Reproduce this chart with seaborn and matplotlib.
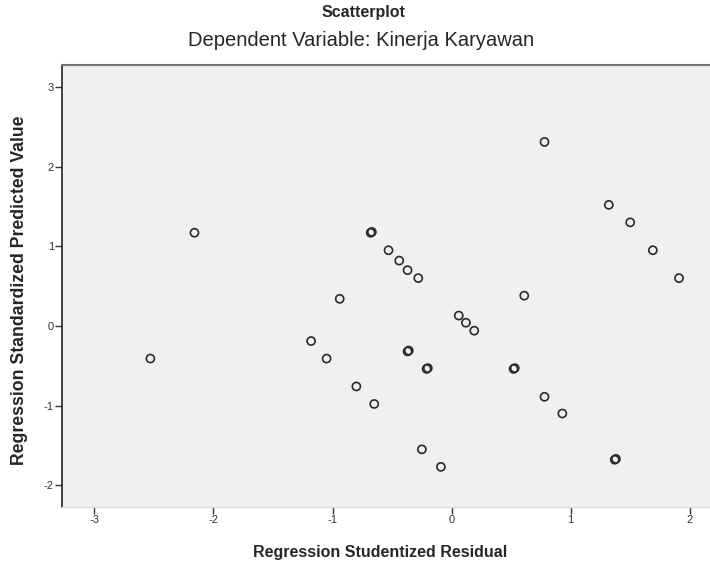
import numpy as np
import pandas as pd
import matplotlib.pyplot as plt
import seaborn as sns

sns.set_style("white")
plt.rcParams["font.family"] = ["Liberation Sans", "DejaVu Sans"]
plt.rcParams["axes.unicode_minus"] = False

# studentized residual vs standardized predicted value
residual = [-2.53, -2.16, -1.18, -1.05, -0.94, -0.80, -0.68, -0.67, -0.65, -0.53,
            -0.44, -0.37, -0.37, -0.36, -0.28, -0.25, -0.21, -0.20, -0.09, 0.06,
            0.12, 0.19, 0.52, 0.53, 0.61, 0.78, 0.78, 0.93, 1.32, 1.37, 1.38,
            1.50, 1.69, 1.91]
predicted = [-0.41, 1.17, -0.19, -0.41, 0.34, -0.76, 1.17, 1.18, -0.98, 0.95,
             0.82, 0.70, -0.32, -0.31, 0.60, -1.55, -0.54, -0.53, -1.77, 0.13,
             0.04, -0.06, -0.54, -0.53, 0.38, -0.89, 2.31, -1.10, 1.52, -1.68, -1.67,
             1.30, 0.95, 0.60]

x_ticks = [-3, -2, -1, 0, 1, 2]
y_ticks = [-2, -1, 0, 1, 2, 3]

df = pd.DataFrame({"Residual": residual, "Predicted": predicted})

fig = plt.figure(figsize=(7.1, 5.64), dpi=100)
ax = fig.add_axes([0.0877, 0.1016, 0.9123, 0.7823])
ax.set_facecolor("#f0f0f0")

sns.scatterplot(data=df, x="Residual", y="Predicted", ax=ax, s=34,
                facecolor="none", edgecolor="#2a2a2a", linewidth=1.2, legend=False)

ax.set_xlim(-3.27, 2.17)
ax.set_ylim(-2.27, 3.27)
ax.set_xticks(x_ticks)
ax.set_yticks(y_ticks)
ax.tick_params(axis="both", labelsize=8, colors="#333333", length=5, width=1,
               direction="out", bottom=True, left=True)
ax.tick_params(axis="y", pad=1)
ax.tick_params(axis="x", pad=1)

ax.spines["right"].set_visible(False)
ax.spines["left"].set_color("#222222")
ax.spines["left"].set_linewidth(1.2)
ax.spines["top"].set_color("#777777")
ax.spines["top"].set_linewidth(1.5)
ax.spines["bottom"].set_color("#dddddd")
ax.spines["bottom"].set_linewidth(1)

ax.set_xlabel("")
ax.set_ylabel("")
fig.text(0.512, 0.977, "Scatterplot", ha="center", va="center",
         fontsize=11.5, fontweight="bold")
fig.text(0.508, 0.929, "Dependent Variable: Kinerja Karyawan", ha="center",
         va="center", fontsize=14.5)
fig.text(0.535, 0.02, "Regression Studentized Residual", ha="center",
         va="center", fontsize=11.5, fontweight="bold")
fig.text(0.028, 0.486, "Regression Standardized Predicted Value", ha="center",
         va="center", rotation=90, fontsize=12.7, fontweight="bold")

fig.savefig("out.png", dpi=100)
